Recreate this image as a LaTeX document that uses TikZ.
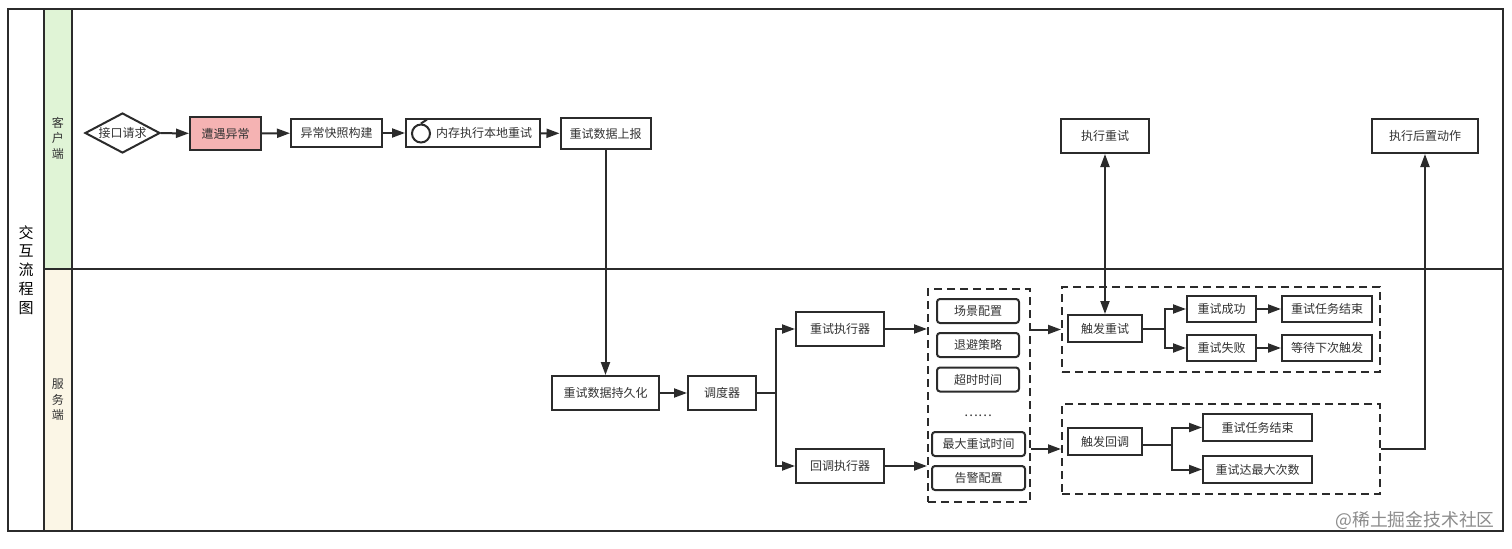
\documentclass[tikz,border=0pt]{standalone}
\usepackage{fontspec}
\setmainfont{Noto Sans CJK SC}
\usetikzlibrary{arrows.meta,calc,shapes.geometric}
\definecolor{lineC}{HTML}{2B2B2B}
\definecolor{txtC}{HTML}{333333}
\definecolor{greenC}{HTML}{E0F4D6}
\definecolor{creamC}{HTML}{FBF6E6}
\definecolor{redC}{HTML}{F5B3B3}
\tikzset{
  x=0.5pt,y=-0.5pt,
  base/.style={draw=lineC,line width=1pt,text=txtC,inner sep=0pt,font=\fontsize{6}{8}\selectfont},
  boxn/.style 2 args={base,rectangle,minimum width=#1*0.5pt,minimum height=#2*0.5pt},
  roundn/.style 2 args={boxn={#1}{#2},rounded corners=1.5pt},
  dashn/.style 2 args={draw=lineC,line width=1pt,dash pattern=on 4pt off 2.5pt,rectangle,inner sep=0pt,minimum width=#1*0.5pt,minimum height=#2*0.5pt},
  arr/.style={draw=lineC,line width=1pt,-{Triangle[length=6.5pt,width=4.5pt]}},
  arrb/.style={draw=lineC,line width=1pt,{Triangle[length=6.5pt,width=4.5pt]}-{Triangle[length=6.5pt,width=4.5pt]}},
  seg/.style={draw=lineC,line width=1pt},
  lane/.style={text=txtC,align=center,inner sep=0pt,font=\fontsize{6}{7.8}\selectfont},
}
\begin{document}
\begin{tikzpicture}
\useasboundingbox (0,0) rectangle (1512,548);
\fill[white] (0,0) rectangle (1512,548);
% swimlane frame
\fill[greenC] (44,8) rectangle (72,269);
\fill[creamC] (44,269) rectangle (72,531);
\draw[seg] (7.5,8.5) rectangle (1503,531);
\draw[seg] (44,8.5) -- (44,531);
\draw[seg] (72,8.5) -- (72,531);
\draw[seg] (44,269) -- (1503,269);
\node[lane,text=black,font=\fontsize{7.5}{9.4}\selectfont] (title) at (26,270) {交\\互\\流\\程\\图};
\node[lane] (laneA) at (58,138) {客\\户\\端};
\node[lane] (laneB) at (58,400) {服\\务\\端};
% client
\node[base,diamond,aspect=1.9,minimum width=37.5pt,minimum height=20pt] (req) at (122.5,133) {接口请求};
\node[boxn={71}{33},fill=redC] (err) at (225.5,133.5) {遭遇异常};
\node[boxn={91}{28}] (snap) at (336.5,133) {异常快照构建};
\node[boxn={134}{28}] (mem) at (473,133) {\hspace{11pt}内存执行本地重试};
\node[draw=lineC,line width=1pt,circle,minimum size=9pt,inner sep=0pt] (loop) at (421,133.5) {};
\draw[seg] (loop.north) -- ++(3pt,2pt);
\node[boxn={90}{31}] (report) at (605.5,133.5) {重试数据上报};
\node[boxn={88}{34}] (runr) at (1105,136) {执行重试};
\node[boxn={106}{34}] (post) at (1425,136) {执行后置动作};
% server
\node[boxn={107}{34}] (persist) at (605.5,393) {重试数据持久化};
\node[boxn={68}{34}] (sched) at (722,393) {调度器};
\node[boxn={88}{34}] (retryx) at (840,329) {重试执行器};
\node[boxn={88}{34}] (callx) at (840,466) {回调执行器};
% config group
\node[dashn={102}{213}] (cfg) at (979,395.5) {};
\node[roundn={82}{24}] (c1) at (978,311) {场景配置};
\node[roundn={82}{24}] (c2) at (978,345) {退避策略};
\node[roundn={82}{24}] (c3) at (978,379.5) {超时时间};
\node[text=txtC,inner sep=0pt,font=\fontsize{6.5}{8}\selectfont] (c4) at (978,416) {……};
\node[roundn={93}{24}] (c5) at (978.5,444) {最大重试时间};
\node[roundn={93}{24}] (c6) at (978.5,478) {告警配置};
% trigger retry group
\node[dashn={318}{85}] (g1) at (1221,329.5) {};
\node[boxn={74}{27}] (tr) at (1105,328.5) {触发重试};
\node[boxn={69}{26}] (ok) at (1221.5,309) {重试成功};
\node[boxn={69}{26}] (fail) at (1221.5,348) {重试失败};
\node[boxn={90}{26}] (done1) at (1327,309) {重试任务结束};
\node[boxn={90}{26}] (wait) at (1327,348) {等待下次触发};
% trigger callback group
\node[dashn={318}{90}] (g2) at (1221,449) {};
\node[boxn={74}{27}] (tc) at (1105,441.5) {触发回调};
\node[boxn={109}{27}] (done2) at (1257.5,427.5) {重试任务结束};
\node[boxn={109}{27}] (maxn) at (1257.5,469.5) {重试达最大次数};
% connectors
\draw[arr] (req) -- (err);
\draw[arr] (err) -- (snap);
\draw[arr] (snap) -- (mem);
\draw[arr] (mem) -- (report);
\draw[arr] (report) -- (persist);
\draw[arr] (persist) -- (sched);
\coordinate (fork) at (776,393);
\draw[seg] (sched) -- (fork);
\draw[arr] (fork) |- (retryx);
\draw[arr] (fork) |- (callx);
\draw[arr] (retryx.east) -- (retryx.east -| cfg.west);
\draw[arr] (callx.east) -- (callx.east -| cfg.west);
\coordinate (cfgA) at (cfg.east |- g1.center);
\draw[arr] (cfgA) -- (g1.west);
\coordinate (cfgB) at (cfg.east |- g2.center);
\draw[arr] (cfgB) -- (g2.west);
\draw[arrb] (runr) -- (tr);
\coordinate (fork1) at (1165,328.5);
\draw[seg] (tr) -- (fork1);
\draw[arr] (fork1) |- (ok);
\draw[arr] (fork1) |- (fail);
\draw[arr] (ok) -- (done1);
\draw[arr] (fail) -- (wait);
\coordinate (fork2) at (1172,445);
\draw[seg] (tc.east |- fork2) -- (fork2);
\draw[arr] (fork2) |- (done2);
\draw[arr] (fork2) |- (maxn);
\draw[arr] (g2.east) -| (post.south);
% watermark
\node[text=black!45,inner sep=0pt,font=\fontsize{8.9}{11}\selectfont] (mark) at (1415,520) {@稀土掘金技术社区};
\end{tikzpicture}
\end{document}
